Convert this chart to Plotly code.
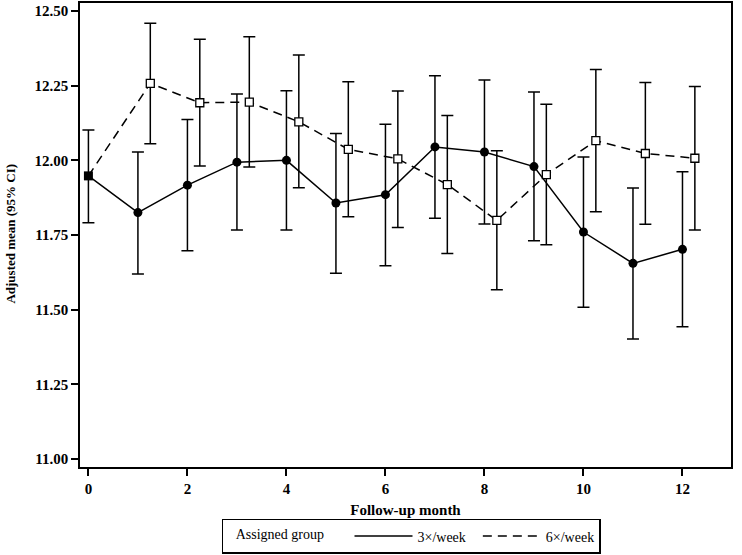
import plotly.graph_objects as go

# ---------------- data ----------------
months = [0, 1, 2, 3, 4, 5, 6, 7, 8, 9, 10, 11, 12]

mean_3x = [11.948, 11.825, 11.917, 11.994, 12.000, 11.857, 11.885, 12.045, 12.028, 11.979, 11.760, 11.655, 11.702]
lower_3x = [11.791, 11.619, 11.697, 11.767, 11.767, 11.622, 11.647, 11.806, 11.787, 11.731, 11.508, 11.402, 11.443]
upper_3x = [12.102, 12.028, 12.137, 12.222, 12.233, 12.090, 12.121, 12.283, 12.269, 12.229, 12.011, 11.907, 11.962]

mean_6x = [11.948, 12.258, 12.193, 12.195, 12.129, 12.037, 12.005, 11.919, 11.799, 11.952, 12.066, 12.023, 12.007]
lower_6x = [None, 12.056, 11.981, 11.978, 11.908, 11.811, 11.775, 11.688, 11.567, 11.717, 11.828, 11.786, 11.767]
upper_6x = [None, 12.459, 12.406, 12.414, 12.353, 12.263, 12.232, 12.150, 12.032, 12.188, 12.304, 12.261, 12.247]

x_ticks = [0, 2, 4, 6, 8, 10, 12]
y_ticks = [11.00, 11.25, 11.50, 11.75, 12.00, 12.25, 12.50]

group_names = ["3\u00d7/week", "6\u00d7/week"]
legend_title = "Assigned group"
x_title = "Follow-up month"
y_title = "Adjusted mean (95% CI)"

# ---------------- styling ----------------
FONT = "Liberation Serif"
DODGE = 0.25  # horizontal offset of the 6x/week group (after baseline)
DASH = "9px,6px"
NB = "\u00a0"

x_6x = [m + (DODGE if m > 0 else 0) for m in months]

# follow-up points of 6x/week (baseline is shared with 3x/week)
fu = [i for i, l in enumerate(lower_6x) if l is not None]

fig = go.Figure()

# 6x/week dashed connecting line (incl. baseline)
fig.add_trace(go.Scatter(
    x=x_6x, y=mean_6x, mode="lines", showlegend=False, hoverinfo="skip",
    line=dict(color="black", width=1.5, dash=DASH),
))
# 6x/week follow-up markers with CI
fig.add_trace(go.Scatter(
    x=[x_6x[i] for i in fu], y=[mean_6x[i] for i in fu], mode="markers", showlegend=False,
    marker=dict(symbol="square", size=8, color="white",
                line=dict(color="black", width=1.3)),
    error_y=dict(type="data", symmetric=False,
                 array=[upper_6x[i] - mean_6x[i] for i in fu],
                 arrayminus=[mean_6x[i] - lower_6x[i] for i in fu],
                 color="black", thickness=1.5, width=6),
))

# 3x/week (solid, filled circles; baseline as filled square)
fig.add_trace(go.Scatter(
    x=months, y=mean_3x, mode="lines+markers", showlegend=False,
    line=dict(color="black", width=1.5),
    marker=dict(symbol=["square"] + ["circle"] * (len(months) - 1),
                size=9, color="black", line=dict(color="black", width=0)),
    error_y=dict(type="data", symmetric=False,
                 array=[u - m for u, m in zip(upper_3x, mean_3x)],
                 arrayminus=[m - l for m, l in zip(mean_3x, lower_3x)],
                 color="black", thickness=1.5, width=6),
))

# legend entries (line only)
fig.add_trace(go.Scatter(x=[None], y=[None], mode="lines", name=group_names[0] + NB * 2,
                         line=dict(color="black", width=1.5)))
fig.add_trace(go.Scatter(x=[None], y=[None], mode="lines", name=group_names[1],
                         line=dict(color="black", width=1.5, dash=DASH)))

axis_common = dict(
    showline=True, linecolor="black", linewidth=1.5, mirror=True,
    ticks="outside", ticklen=7, tickwidth=1.5, tickcolor="black",
    showgrid=False, zeroline=False, automargin=False,
    tickfont=dict(family=FONT, size=15, color="black", weight="bold"),
)

fig.update_xaxes(
    range=[-0.17, 12.98], tickvals=x_ticks, ticktext=[str(v) for v in x_ticks],
    title=dict(text=x_title, font=dict(family=FONT, size=15, color="black", weight="bold"), standoff=9),
    **axis_common,
)
fig.update_yaxes(
    range=[10.973, 12.527], tickvals=y_ticks, ticktext=[f"{v:.2f}" for v in y_ticks],
    **axis_common,
)

fig.add_annotation(
    text=y_title, textangle=-90, xref="paper", yref="paper",
    x=-0.106, y=0.503, xanchor="center", yanchor="middle", showarrow=False,
    font=dict(family=FONT, size=13, color="black", weight="bold"),
)

fig.update_layout(
    width=742, height=555,
    margin=dict(l=80, r=11, t=3, b=88, autoexpand=False),
    paper_bgcolor="white", plot_bgcolor="white",
    font=dict(family=FONT, size=15, color="black"),
    legend=dict(
        orientation="h", x=0.2177, xanchor="left", y=-0.112, yanchor="top",
        bordercolor="black", borderwidth=1.5, bgcolor="white",
        title=dict(text=NB * 3 + legend_title + NB * 5, side="left",
                   font=dict(family=FONT, size=14, color="black")),
        font=dict(family=FONT, size=14, color="black"),
        itemwidth=58, tracegroupgap=0,
    ),
)

fig.write_html("out.html", config={"displayModeBar": False},
               post_script="document.body.style.margin='0px';")
